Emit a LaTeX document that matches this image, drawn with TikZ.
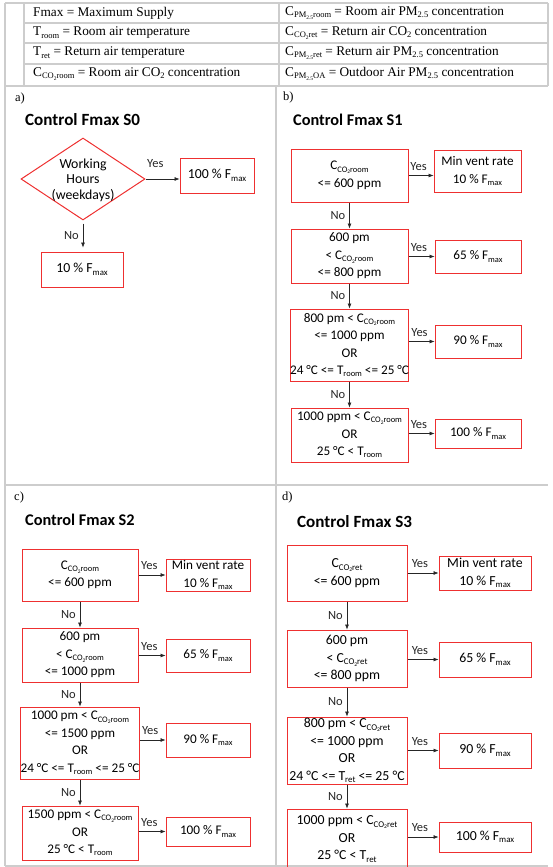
\documentclass[tikz,border=0pt]{standalone}
\usepackage{fontspec}
\setmainfont{Liberation Serif}
\setsansfont{Carlito}
\usetikzlibrary{shapes.geometric,arrows.meta}
\definecolor{boxred}{RGB}{238,48,48}
\definecolor{gridgray}{RGB}{205,205,205}
\newdimen\sbsdim
\makeatletter
\newcommand{\sbs}[1]{\sbsdim=\f@size pt\sbsdim=0.64\sbsdim\raisebox{-0.38ex}{\fontsize{\sbsdim}{\sbsdim}\selectfont #1}}
\makeatother

\begin{document}
\begin{tikzpicture}[x=1pt,y=-1pt,
  tabline/.style={draw=gridgray,line width=1.2pt},
  tabtext/.style={anchor=west,inner sep=0pt,font=\fontsize{13.3}{15}\selectfont},
  panel/.style={anchor=west,inner sep=0pt,font=\fontsize{12.5}{14}\selectfont},
  title/.style={anchor=west,inner sep=0pt,font=\sffamily\bfseries\fontsize{16.3}{19}\selectfont},
  bigtitle/.style={title,font=\sffamily\bfseries\fontsize{17.1}{20}\selectfont},
  box/.style={draw=boxred,line width=1pt,inner sep=0pt,align=center,font=\sffamily\fontsize{13.2}{17.5}\selectfont},
  bigbox/.style={box,font=\sffamily\fontsize{13.8}{17.5}\selectfont},
  arr/.style={-{Latex[length=5pt,width=4pt]},line width=0.6pt,black!85},
  lab/.style={inner sep=1pt,font=\sffamily\fontsize{12.5}{14}\selectfont},
  yes/.style={lab,above=4pt,pos=.4},
  no/.style={lab,left=3pt,midway}]
  	\useasboundingbox (0,0) rectangle (553,867);
  	\clip (0,0) rectangle (553,867);
  	
  	% table lines
  	\draw[tabline] (5,3) -- (548,3);
  	\draw[tabline] (24,23) -- (548,23);
  	\draw[tabline] (24,43) -- (548,43);
  	\draw[tabline] (24,64) -- (548,64);
  	\draw[tabline] (5,86) -- (548,86);
  	\draw[tabline] (5,485) -- (548,485);
  	\draw[tabline] (5,866) -- (548,866);
  	\draw[tabline] (5,3) -- (5,866);
  	\draw[tabline] (24,3) -- (24,86);
  	\draw[tabline] (279,3) -- (279,86);
  	\draw[tabline] (548,3) -- (548,86);
  	\draw[tabline] (276,86) -- (276,866);
  	
  	\node[tabtext] at (33,13) (t1) {Fmax = Maximum Supply};
  	\node[tabtext] at (33,33) (t2) {T\sbs{room} = Room air temperature};
  	\node[tabtext] at (33,53) (t3) {T\sbs{ret} = Return air temperature};
  	\node[tabtext] at (33,74) (t4) {C\sbs{CO\sbs{2}room} = Room air CO\sbs{2} concentration};
  	\node[tabtext] at (285,13) (t5) {C\sbs{PM\sbs{2.5}room} = Room air PM\sbs{2.5} concentration};
  	\node[tabtext] at (285,33) (t6) {C\sbs{CO\sbs{2}ret} = Return air CO\sbs{2} concentration};
  	\node[tabtext] at (285,53) (t7) {C\sbs{PM\sbs{2.5}ret} = Return air PM\sbs{2.5} concentration};
  	\node[tabtext] at (285,74) (t8) {C\sbs{PM\sbs{2.5}OA} = Outdoor Air PM\sbs{2.5} concentration};
  	
  	% a) S0
  	\node[panel] at (15,98) (pa) {a)};
  	\node[bigtitle] at (25,120) (ta) {Control Fmax S0};
  	\node[diamond,draw=boxred,line width=1pt,inner sep=0pt,minimum width=124pt,minimum height=82pt,
  	      font=\sffamily\fontsize{13.8}{15.5}\selectfont] at (83,179) (a0)
  	      {\smash{\makebox[0pt]{\raisebox{-5pt}{\begin{tabular}{@{}c@{}}Working\\Hours\\(weekdays)\end{tabular}}}}};
  	\node[bigbox,minimum width=74pt,minimum height=35pt] at (217,175.5) (a100) {100 \% F\sbs{max}};
  	\node[bigbox,minimum width=82pt,minimum height=35pt] at (82,269.5) (a10) {10 \% F\sbs{max}};
  	
  	% b) S1
  	\node[panel] at (283,97) (pb) {b)};
  	\node[title] at (293,120) (tb) {Control Fmax S1};
  	\node[box,minimum width=117pt,minimum height=53pt] at (349.5,175.5) (b1) {C\sbs{CO\sbs{2}room}\\<= 600 ppm};
  	\node[box,minimum width=87pt,minimum height=42pt] at (477.5,171) (bmin) {Min vent rate\\10 \% F\sbs{max}};
  	\node[box,minimum width=117pt,minimum height=54pt] at (349.5,256) (b2) {600 pm\\< C\sbs{CO\sbs{2}room}\\<= 800 ppm};
  	\node[box,minimum width=86pt,minimum height=33pt] at (478,256.5) (b65) {65 \% F\sbs{max}};
  	\node[box,minimum width=117pt,minimum height=72pt] at (349.5,345) (b3) {800 pm < C\sbs{CO\sbs{2}room}\\<= 1000 ppm\\OR\\24 °C <= T\sbs{room} <= 25 °C};
  	\node[box,minimum width=86pt,minimum height=33pt] at (478,341.5) (b90) {90 \% F\sbs{max}};
  	\node[box,minimum width=117pt,minimum height=54pt] at (349.5,435) (b4) {1000 ppm < C\sbs{CO\sbs{2}room}\\OR\\25 °C < T\sbs{room}};
  	\node[box,minimum width=86pt,minimum height=29pt] at (478,433.5) (b100) {100 \% F\sbs{max}};
  	
  	% c) S2
  	\node[panel] at (14,497) (pc) {c)};
  	\node[title] at (25,520) (tc) {Control Fmax S2};
  	\node[box,minimum width=116pt,minimum height=52pt] at (80,575) (c1) {C\sbs{CO\sbs{2}room}\\<= 600 ppm};
  	\node[box,minimum width=84pt,minimum height=32pt] at (208,575) (cmin) {Min vent rate\\10 \% F\sbs{max}};
  	\node[box,minimum width=116pt,minimum height=54pt] at (80,655) (c2) {600 pm\\< C\sbs{CO\sbs{2}room}\\<= 1000 ppm};
  	\node[box,minimum width=84pt,minimum height=33pt] at (208,655.5) (c65) {65 \% F\sbs{max}};
  	\node[box,minimum width=116pt,minimum height=72pt] at (80,743) (c3) {1000 pm < C\sbs{CO\sbs{2}room}\\<= 1500 ppm\\OR\\24 °C <= T\sbs{room} <= 25 °C};
  	\node[box,minimum width=84pt,minimum height=34pt] at (208,740) (c90) {90 \% F\sbs{max}};
  	\node[box,minimum width=116pt,minimum height=54pt] at (80,833) (c4) {1500 ppm < C\sbs{CO\sbs{2}room}\\OR\\25 °C < T\sbs{room}};
  	\node[box,minimum width=84pt,minimum height=29pt] at (208,831.5) (c100) {100 \% F\sbs{max}};
  	
  	% d) S3
  	\node[panel] at (282,497) (pd) {d)};
  	\node[bigtitle] at (297,522) (td) {Control Fmax S3};
  	\node[bigbox,minimum width=120pt,minimum height=56pt] at (347,573) (d1) {C\sbs{CO\sbs{2}ret}\\<= 600 ppm};
  	\node[bigbox,minimum width=92pt,minimum height=34pt] at (485,573) (dmin) {Min vent rate\\10 \% F\sbs{max}};
  	\node[bigbox,minimum width=120pt,minimum height=57pt] at (347,658.5) (d2) {600 pm\\< C\sbs{CO\sbs{2}ret}\\<= 800 ppm};
  	\node[bigbox,minimum width=92pt,minimum height=35pt] at (485,659.5) (d65) {65 \% F\sbs{max}};
  	\node[bigbox,minimum width=120pt,minimum height=67pt] at (347,750.5) (d3) {800 pm < C\sbs{CO\sbs{2}ret}\\<= 1000 ppm\\OR\\24 °C <= T\sbs{ret} <= 25 °C};
  	\node[bigbox,minimum width=92pt,minimum height=35pt] at (485,750.5) (d90) {90 \% F\sbs{max}};
  	\node[bigbox,minimum width=120pt,minimum height=60pt] at (347,839) (d4) {1000 ppm < C\sbs{CO\sbs{2}ret}\\OR\\25 °C < T\sbs{ret}};
  	\node[bigbox,minimum width=92pt,minimum height=30pt] at (485,837) (d100) {100 \% F\sbs{max}};
  	
  	\path[arr]
  	(a0.east) edge node[lab,above=10pt,pos=.29] {Yes} (a0.east -| a100.west)
  	(a0.south) edge[shorten <=3pt,shorten >=4pt] node[no] {No} (a0.south |- a10.north)
  	
  	(b1.east) edge node[yes] {Yes} (b1.east -| bmin.west)
  	(b2.east |- b65.west) edge node[yes] {Yes} (b65.west)
  	(b3.east |- b90.west) edge node[yes] {Yes} (b90.west)
  	(b4.east |- b100.west) edge node[yes] {Yes} (b100.west)
  	(b1) edge node[no] {No} (b2)
  	(b2) edge node[no] {No} (b3)
  	(b3) edge node[no] {No} (b4)
  	
  	(c1.east |- cmin.west) edge node[yes] {Yes} (cmin.west)
  	(c2.east |- c65.west) edge node[yes] {Yes} (c65.west)
  	(c3.east |- c90.west) edge node[yes] {Yes} (c90.west)
  	(c4.east |- c100.west) edge node[yes] {Yes} (c100.west)
  	(c1) edge node[no] {No} (c2)
  	(c2) edge node[no] {No} (c3)
  	(c3) edge node[no] {No} (c4)
  	
  	(d1.east |- dmin.west) edge node[yes] {Yes} (dmin.west)
  	(d2.east |- d65.west) edge node[yes] {Yes} (d65.west)
  	(d3.east |- d90.west) edge node[yes] {Yes} (d90.west)
  	(d4.east |- d100.west) edge node[yes] {Yes} (d100.west)
  	(d1) edge node[no] {No} (d2)
  	(d2) edge node[no] {No} (d3)
  	(d3) edge node[no] {No} (d4);
\end{tikzpicture}
\end{document}
